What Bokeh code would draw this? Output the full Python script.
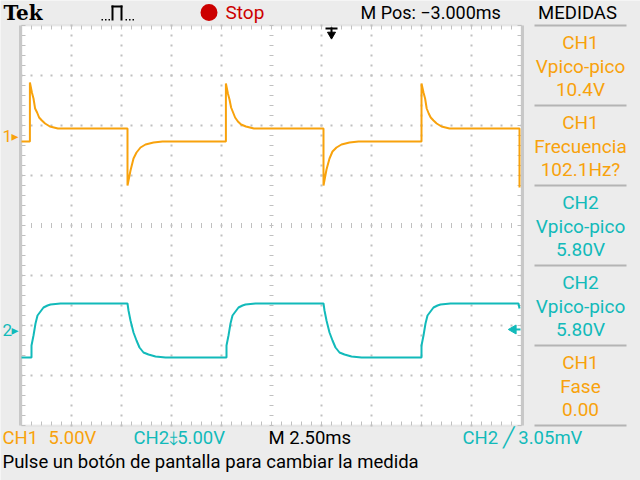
import numpy as np
from bokeh.plotting import figure
from bokeh.models import Label, BoxAnnotation, Range1d
from bokeh.embed import file_html
from bokeh.resources import INLINE

# scope settings
TIME_PER_DIV = 2.5      # ms
CH1_VDIV = 5.0          # V/div
CH2_VDIV = 5.0
CH1_POS = 1.8           # divisions above centre
CH2_POS = -2.08
TRIG_TIME = 15.5        # ms from left edge (M Pos -3.000ms)
TRIG_LEVEL = 0.00305    # V on CH2

# CH1 trace (ms, V)
CH1_T = [0.00, 0.42, 0.42, 0.52, 0.60, 0.68, 0.78, 0.88, 1.02, 1.18, 1.42, 1.82,
         5.30, 5.30, 5.45, 5.60, 5.75, 5.95, 6.20, 6.60, 7.05,
         10.22, 10.22, 10.32, 10.40, 10.48, 10.58, 10.68, 10.82, 10.98, 11.22, 11.62,
         15.10, 15.10, 15.25, 15.40, 15.55, 15.75, 16.00, 16.40, 16.85,
         20.00, 20.00, 20.10, 20.18, 20.26, 20.36, 20.46, 20.60, 20.76, 21.00, 21.40,
         24.90, 24.90]
CH1_V = [-0.6, -0.6, 5.3, 4.3, 3.7, 2.7, 2.3, 1.8, 1.5, 1.2, 0.9, 0.7,
         0.7, -5.0, -3.5, -2.3, -1.7, -1.2, -0.9, -0.7, -0.6,
         -0.6, 5.2, 4.2, 3.6, 2.8, 2.3, 1.8, 1.4, 1.1, 0.9, 0.7,
         0.7, -5.0, -3.4, -2.3, -1.6, -1.2, -0.9, -0.7, -0.6,
         -0.6, 5.2, 4.3, 3.7, 2.7, 2.2, 1.8, 1.5, 1.2, 0.9, 0.7,
         0.7, -5.2]

# CH2 trace (ms, V)
CH2_T = [0.00, 0.50, 0.50, 0.60, 0.70, 0.80, 0.95, 1.10, 1.30, 1.45, 1.95,
         5.30, 5.35, 5.45, 5.60, 5.75, 5.90, 6.10, 6.35, 6.70, 7.20,
         10.25, 10.25, 10.35, 10.45, 10.55, 10.70, 10.85, 11.05, 11.20, 11.70,
         15.10, 15.15, 15.25, 15.40, 15.55, 15.70, 15.90, 16.15, 16.50, 17.00,
         20.00, 20.00, 20.10, 20.20, 20.30, 20.45, 20.60, 20.80, 20.95, 21.45,
         24.85, 24.90]
CH2_V = [-2.8, -2.8, -1.6, -0.6, 0.6, 1.4, 1.8, 2.2, 2.4, 2.5, 2.6,
         2.6, 1.9, 0.9, -0.3, -1.1, -1.8, -2.3, -2.5, -2.7, -2.8,
         -2.8, -1.6, -0.6, 0.6, 1.4, 1.8, 2.2, 2.4, 2.5, 2.6,
         2.6, 1.9, 0.9, -0.3, -1.1, -1.8, -2.3, -2.5, -2.7, -2.8,
         -2.8, -1.6, -0.6, 0.6, 1.4, 1.8, 2.2, 2.4, 2.5, 2.6,
         2.6, 2.1]

# measurement panel
MEAS_SRC = ["CH1", "CH1", "CH2", "CH2", "CH1"]
MEAS_NAME = ["Vpico-pico", "Frecuencia", "Vpico-pico", "Vpico-pico", "Fase"]
MEAS_VAL = ["10.4V", "102.1Hz?", "5.80V", "5.80V", "0.00"]

ORANGE = "#f8a20c"
CYAN = "#12baba"
GRID = "#c0c0c0"
CH_COLOR = {"CH1": ORANGE, "CH2": CYAN}

# whole canvas is the frame; 1 px = 0.05 ms across, 1 division = 50 px up
# graticule (10 x 8 div) sits at canvas x 21..521, y 25..425
p = figure(width=640, height=480, x_range=Range1d(-1.05, 30.95), y_range=Range1d(-5.1, 4.5),
           x_axis_type=None, y_axis_type=None, toolbar_location=None, output_backend="svg",
           min_border=0)
p.background_fill_color = "#ececec"
p.border_fill_color = "#ececec"
p.outline_line_color = None
p.xgrid.visible = False
p.ygrid.visible = False

p.add_layout(BoxAnnotation(left=0, right=10 * TIME_PER_DIV, bottom=-4, top=4, fill_color="white",
                           fill_alpha=1, line_color="#c4c4c4", line_width=2, level="underlay"))

# graticule: dotted division lines
dx, dy = [], []
for yl in [-3, -2, -1, 1, 2, 3]:
    xs = np.arange(0, 25.01, 0.5)
    dx += list(xs)
    dy += [yl] * len(xs)
for xl in np.arange(2.5, 25, 2.5):
    if abs(xl - 12.5) < 0.01:
        continue
    ys = np.arange(-4, 4.01, 0.2)
    dx += [xl] * len(ys)
    dy += list(ys)
p.scatter(dx, dy, marker="square", size=2, fill_color=GRID, line_color=None)

# centre cross ticks and border ticks
tx = np.arange(0, 25.01, 0.5)
ty = np.arange(-4, 4.01, 0.2)
p.segment(tx, -0.05, tx, 0.05, color=GRID, line_width=1)
p.segment(12.4, ty, 12.6, ty, color=GRID, line_width=1)
p.segment(tx, 4, tx, 3.92, color=GRID, line_width=1)
p.segment(tx, -4, tx, -3.92, color=GRID, line_width=1)
p.segment(0, ty, 0.2, ty, color=GRID, line_width=1)
p.segment(25, ty, 24.8, ty, color=GRID, line_width=1)
# thicker left / right edges of the graticule
p.segment([-0.05, 25.05], -4, [-0.05, 25.05], 4, color="#c8c8c8", line_width=3)

# traces
ch1_y = np.array(CH1_V) / CH1_VDIV + CH1_POS
ch2_y = np.array(CH2_V) / CH2_VDIV + CH2_POS
p.line(CH1_T, ch1_y, color=ORANGE, line_width=2)
p.line(CH2_T, ch2_y, color=CYAN, line_width=2)

# trigger position marker (top) and trigger level marker (right)
p.segment(TRIG_TIME - 0.3, 3.94, TRIG_TIME + 0.3, 3.94, color="black", line_width=2)
p.segment(TRIG_TIME, 3.96, TRIG_TIME, 3.84, color="black", line_width=2)
p.scatter([TRIG_TIME], [3.82], marker="inverted_triangle", size=8, color="black")
trig_y = CH2_POS + TRIG_LEVEL / CH2_VDIV
p.scatter([24.6], [trig_y], marker="triangle", angle=np.pi / 2, size=9, color=CYAN)
p.segment(24.6, trig_y, 24.95, trig_y, color=CYAN, line_width=2)


def txt(s, rx, ry, color, size=18, align="left", font="Roboto", style="normal"):
    # ry is the wanted baseline; labels render about 5px lower, so lift them
    p.add_layout(Label(x=rx, y=480 - ry + 5, x_units="screen", y_units="screen", text=s,
                       text_color=color, text_font=font, text_font_size=f"{size}px",
                       text_font_style=style, text_align=align, text_baseline="alphabetic"))


def box(rx0, ry0, rx1, ry1, color, radius=0):
    p.add_layout(BoxAnnotation(left=rx0, right=rx1, top=480 - ry0, bottom=480 - ry1,
                               left_units="screen", right_units="screen",
                               top_units="screen", bottom_units="screen",
                               fill_color=color, fill_alpha=1, line_color=None,
                               border_radius=radius, level="overlay"))


# channel ground markers
for name, pos in [("1", CH1_POS), ("2", CH2_POS)]:
    col = ORANGE if name == "1" else CYAN
    p.add_layout(Label(x=2, y=pos, x_units="screen", y_units="data", text=name, text_color=col,
                       text_font="Roboto", text_font_size="17px", text_baseline="middle"))
    p.add_layout(Label(x=11, y=pos, x_units="screen", y_units="data", text="\u25b8", text_color=col,
                       text_font="DejaVu Sans", text_font_size="14px", text_baseline="middle"))

# top bar
txt("Tek", 3, 17, "black", size=20, font="DejaVu Serif", style="bold")
box(111, 5, 113, 20, "black")
box(111, 5, 122, 7, "black")
box(120, 5, 122, 20, "black")
for xd in [101, 104.5, 108, 125, 128.5, 132]:
    box(xd, 18.5, xd + 1.5, 20, "black")
box(200, 3.5, 217, 20.5, "#cc0000", radius=9)
txt("Stop", 225, 17, "#cc0000", size=19)
txt("M Pos: \u22123.000ms", 360, 17, "black", size=18)
txt("MEDIDAS", 577, 17, "black", size=18.5, align="center")

# measurement panel
for k in range(6):
    box(534, 24 + 80 * k, 626, 26 + 80 * k, "#b4b4b4")
for k in range(5):
    top = 25 + 80 * k
    col = CH_COLOR[MEAS_SRC[k]]
    txt(MEAS_SRC[k], 580, top + 22, col, size=19, align="center")
    txt(MEAS_NAME[k], 580, top + 46, col, size=19, align="center")
    txt(MEAS_VAL[k], 580, top + 69, col, size=19, align="center")

# bottom bar
txt("CH1", 2, 442, ORANGE, size=18.5)
txt(f"{CH1_VDIV:.2f}V", 48, 442, ORANGE, size=18.5)
txt(f"CH2\u2908{CH2_VDIV:.2f}V", 133, 442, CYAN, size=18.5)
txt(f"M {TIME_PER_DIV:.2f}ms", 268, 442, "black", size=18.5)
txt(f"CH2 \u2571 {TRIG_LEVEL * 1000:.2f}mV", 462, 442, CYAN, size=18.5)
txt("Pulse un bot\u00f3n de pantalla para cambiar la medida", 2, 466, "black", size=18.5)

open("out.html", "w").write(file_html(p, INLINE))
